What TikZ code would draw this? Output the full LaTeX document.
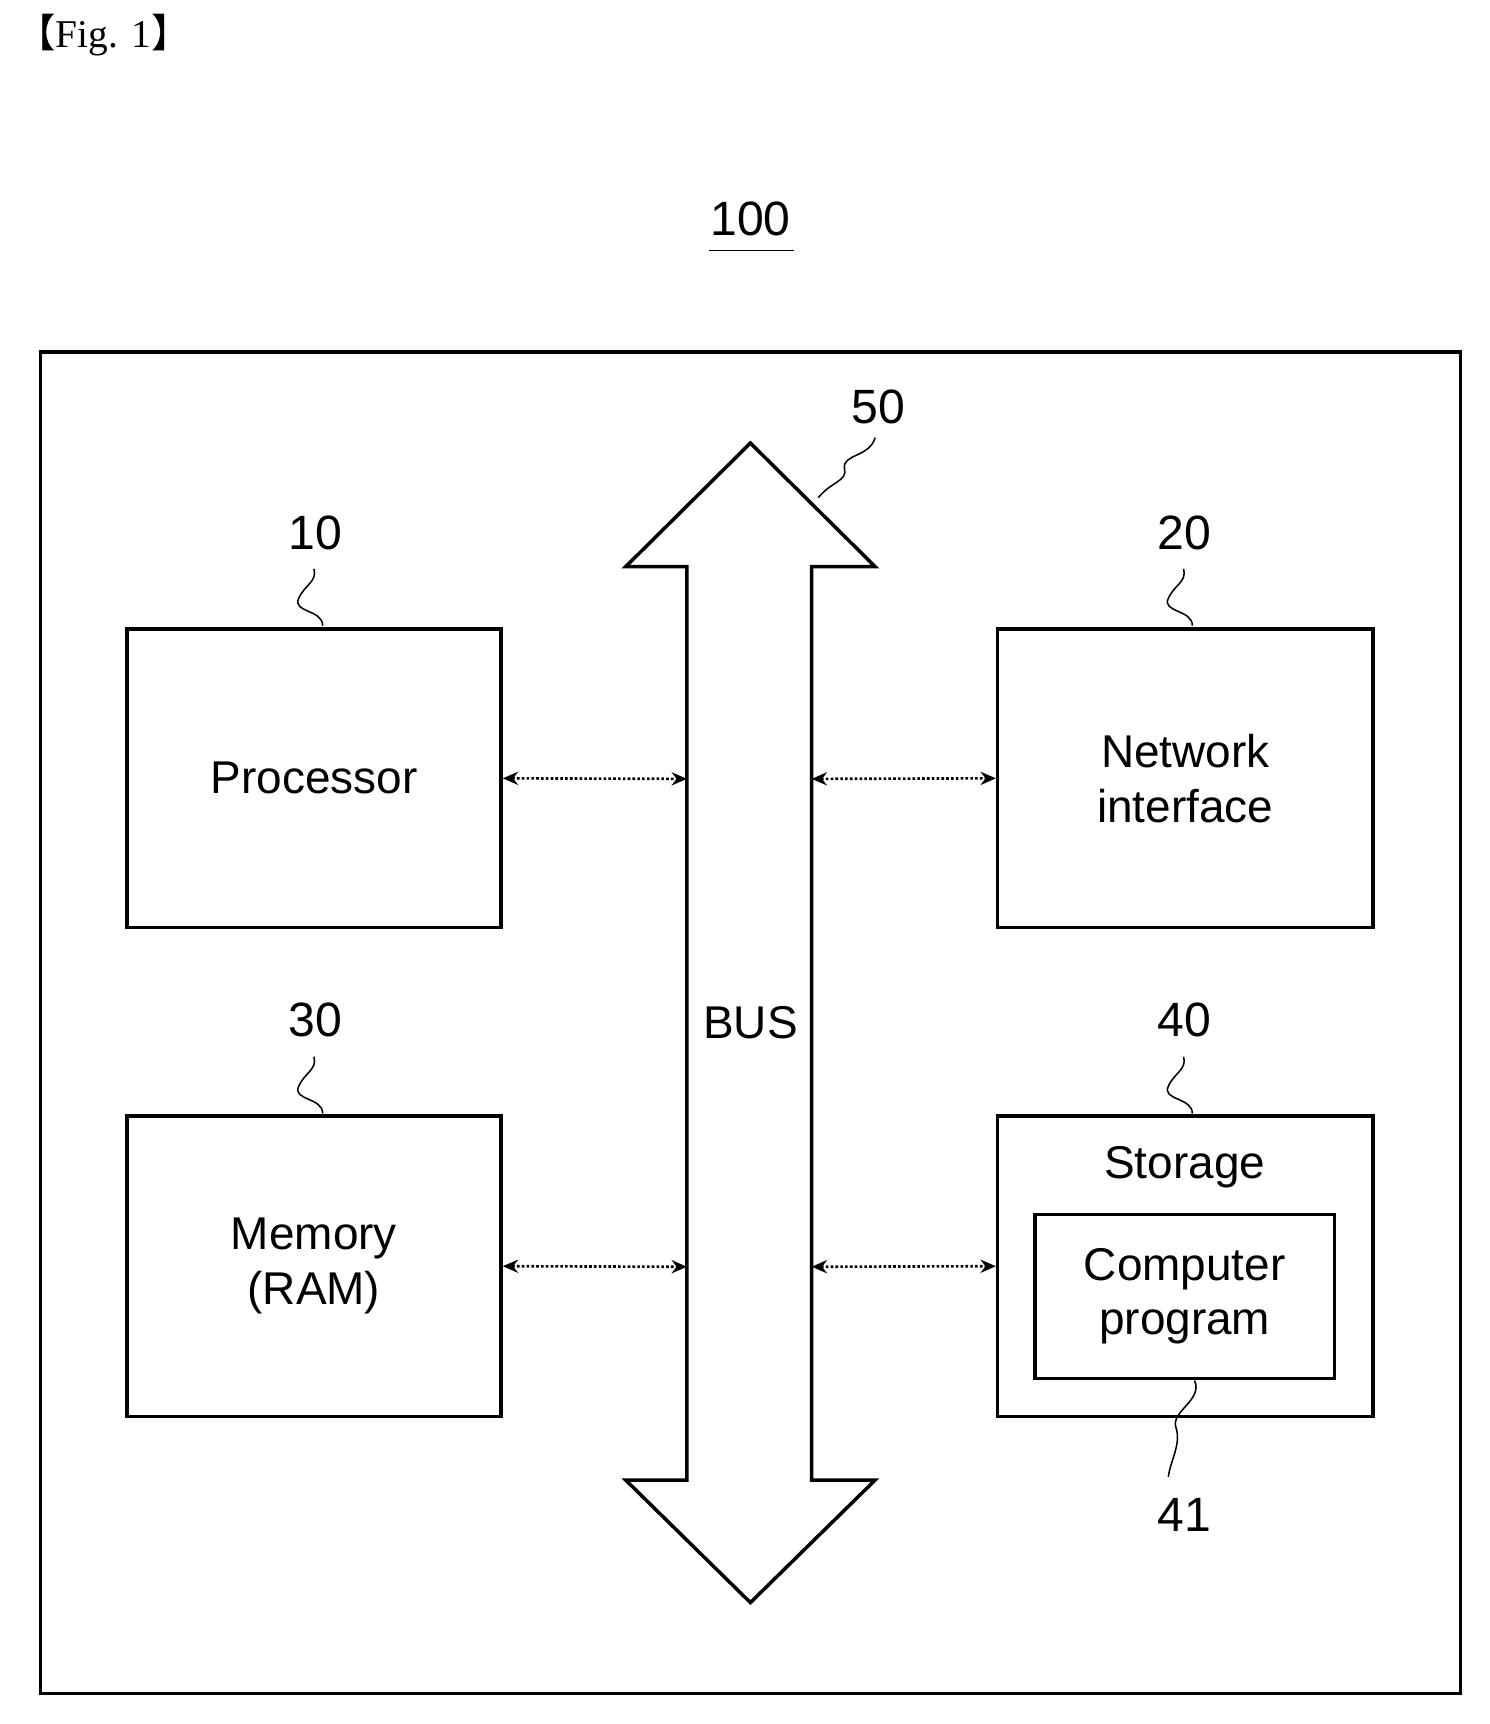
\documentclass[tikz,border=0pt]{standalone}
\usepackage{fontspec}
\setmainfont{Liberation Sans}
\newfontfamily\cjk{Noto Sans CJK JP}
\newfontfamily\serifx{Liberation Serif}
\usetikzlibrary{arrows.meta}
\begin{document}
\begin{tikzpicture}[x=0.5pt,y=-0.5pt,
  box/.style={draw,line width=1.6pt},
  lab/.style={font=\fontsize{21}{25}\selectfont},
  num/.style={font=\fontsize{22}{26}\selectfont},
  lead/.style={line width=0.7pt},
  conn/.style={densely dotted,line width=1.2pt,{Stealth[length=7pt,width=6pt]}-{Stealth[length=7pt,width=6pt]}}]
\useasboundingbox (0,0) rectangle (1362,1576);
\node[anchor=west,font=\fontsize{18}{22}\selectfont] (fig) at (8,32) {{\cjk 【}{\serifx Fig. 1}{\cjk 】}};
\node[num] (n100) at (686,200) {100};
\draw[lead] (648,229) -- (726,229);
\draw[box] (37,322) rectangle (1335,1548);
% bus
\draw[line width=1.6pt] (628,518) -- (572,518) -- (686,405) -- (800,518) -- (742,518) -- (742,1353) -- (800,1353) -- (686,1465) -- (572,1353) -- (628,1353) -- cycle;
\coordinate (busL1) at (628,712); \coordinate (busR1) at (742,712);
\coordinate (busL2) at (628,1158); \coordinate (busR2) at (742,1158);
\node[lab] (bus) at (686,935) {BUS};
\node[num] (n50) at (803,372) {50};
\draw[lead] (748,455) .. controls (760,440) and (775,440) .. (772,428) .. controls (770,415) and (795,418) .. (800,400);
% boxes
\node[box,minimum width=171,minimum height=136.5,lab,align=center] (proc) at (287,711.5) {Processor};
\node[box,minimum width=171.5,minimum height=136.5,lab,align=center] (net) at (1083.5,711.5) {Network\\interface};
\node[box,minimum width=171,minimum height=137.5,lab,align=center] (mem) at (287,1157.5) {Memory\\(RAM)};
\node[box,minimum width=171.5,minimum height=137.5] (stor) at (1083.5,1157.5) {};
\node[lab] (storl) at (1083,1067) {Storage};
\node[box,minimum width=137,minimum height=75,lab,align=center] (prog) at (1083,1185) {Computer\\program};
\node[num] (n10) at (288,487) {10};
\node[num] (n20) at (1083,487) {20};
\node[num] (n30) at (288,932) {30};
\node[num] (n40) at (1083,932) {40};
\node[num] (n41) at (1083,1385) {41};
\foreach \x/\y in {295/572,1090/572,295/1018,1090/1018}{
  \draw[lead] (\x,\y) .. controls (\x,\y-15) and (\x-28,\y-12) .. (\x-22,\y-25) .. controls (\x-16,\y-38) and (\x-5,\y-40) .. (\x-8,\y-52);}
\draw[lead] (1092,1262) .. controls (1100,1280) and (1070,1290) .. (1075,1305) .. controls (1080,1320) and (1070,1335) .. (1068,1350);
% connectors
\draw[conn] (proc.east) -- (busL1);
\draw[conn] (busR1) -- (net.west);
\draw[conn] (mem.east) -- (busL2);
\draw[conn] (busR2) -- (stor.west);
\end{tikzpicture}
\end{document}
